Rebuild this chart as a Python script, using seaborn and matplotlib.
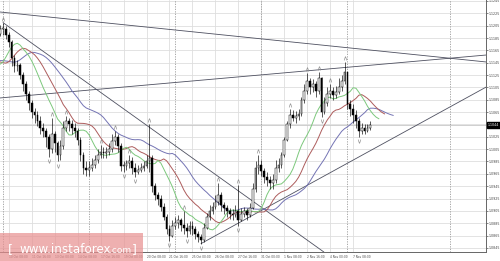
import numpy as np
import pandas as pd
import matplotlib
matplotlib.use("Agg")
import matplotlib.pyplot as plt
import seaborn as sns
from matplotlib.patches import Rectangle

# ---------------- data (EUR/USD, H4) ----------------
# bar index: -12..-1 pre-history (off screen), 0 = 10 Oct 00:00 ... 128 = 8 Nov 08:00
first_open = 1.1150
close = [1.1145, 1.1140, 1.1148, 1.1152, 1.1145, 1.1140, 1.1138, 1.1135, 1.1142, 1.1175, 1.1192, 1.1200,
         1.1200, 1.1190, 1.1178, 1.1152, 1.1140, 1.1142,
         1.1125, 1.1110, 1.1095, 1.1080, 1.1065, 1.1060,
         1.1050, 1.1040, 1.1035, 1.1025, 1.1005, 1.1030,
         1.1015, 1.0995, 1.1010, 1.1040, 1.1050, 1.1045,
         1.1040, 1.1035, 1.1020, 1.0995, 1.0975, 1.0972,
         1.0975, 1.0980, 1.0988, 1.0995, 1.1000, 1.0998,
         1.1000, 1.1005, 1.1018, 1.1025, 1.1010, 1.0978,
         1.0978, 1.0982, 1.0986, 1.0975, 1.0968, 1.0972,
         1.0975, 1.0978, 1.0985, 1.0990, 1.0945, 1.0930,
         1.0925, 1.0912, 1.0895, 1.0875, 1.0865, 1.0880,
         1.0885, 1.0890, 1.0882, 1.0878, 1.0872, 1.0880,
         1.0876, 1.0868, 1.0862, 1.0858, 1.0878, 1.0895,
         1.0905, 1.0912, 1.0920, 1.0930, 1.0915, 1.0910,
         1.0905, 1.0900, 1.0898, 1.0905, 1.0890, 1.0900,
         1.0905, 1.0898, 1.0910, 1.0940, 1.0975, 1.0980,
         1.0970, 1.0960, 1.0955, 1.0950, 1.0955, 1.0975,
         1.0980, 1.0995, 1.1020, 1.1045, 1.1060, 1.1055,
         1.1058, 1.1062, 1.1085, 1.1100, 1.1115, 1.1105,
         1.1110, 1.1100, 1.1120, 1.1065, 1.1080, 1.1095,
         1.1100, 1.1092, 1.1098, 1.1105, 1.1115, 1.1130,
         1.1078, 1.1070, 1.1060, 1.1050, 1.1035, 1.1040,
         1.1035, 1.1040, 1.1044]
high = [1.1158, 1.1152, 1.1155, 1.1160, 1.1158, 1.1150, 1.1148, 1.1145, 1.1150, 1.1185, 1.1200, 1.1206,
        1.1210, 1.1205, 1.1195, 1.1182, 1.1158, 1.1150,
        1.1145, 1.1130, 1.1115, 1.1100, 1.1085, 1.1072,
        1.1066, 1.1058, 1.1048, 1.1040, 1.1030, 1.1055,
        1.1035, 1.1018, 1.1020, 1.1050, 1.1058, 1.1055,
        1.1052, 1.1048, 1.1040, 1.1025, 1.1000, 1.0985,
        1.0985, 1.0990, 1.0995, 1.1005, 1.1012, 1.1008,
        1.1008, 1.1015, 1.1030, 1.1035, 1.1030, 1.1015,
        1.0985, 1.0988, 1.0995, 1.0992, 1.0982, 1.0980,
        1.0982, 1.0985, 1.0995, 1.1045, 1.0995, 1.0950,
        1.0935, 1.0930, 1.0918, 1.0900, 1.0882, 1.0890,
        1.0895, 1.0898, 1.0893, 1.0905, 1.0885, 1.0888,
        1.0888, 1.0880, 1.0872, 1.0868, 1.0885, 1.0902,
        1.0915, 1.0920, 1.0930, 1.0950, 1.0935, 1.0920,
        1.0915, 1.0910, 1.0908, 1.0915, 1.0947, 1.0910,
        1.0912, 1.0910, 1.0918, 1.0950, 1.0985, 1.0995,
        1.0988, 1.0975, 1.0968, 1.0962, 1.0965, 1.0988,
        1.0990, 1.1000, 1.1025, 1.1050, 1.1070, 1.1068,
        1.1066, 1.1070, 1.1090, 1.1110, 1.1128, 1.1120,
        1.1118, 1.1115, 1.1130, 1.1122, 1.1090, 1.1105,
        1.1110, 1.1105, 1.1108, 1.1120, 1.1125, 1.1146,
        1.1130, 1.1085, 1.1078, 1.1068, 1.1055, 1.1048,
        1.1045, 1.1046, 1.1050]
low = [1.1140, 1.1132, 1.1136, 1.1142, 1.1138, 1.1132, 1.1130, 1.1128, 1.1130, 1.1138, 1.1170, 1.1188,
       1.1190, 1.1183, 1.1170, 1.1140, 1.1130, 1.1132,
       1.1118, 1.1100, 1.1085, 1.1068, 1.1055, 1.1048,
       1.1042, 1.1030, 1.1025, 1.1008, 1.0992, 1.0998,
       1.1000, 1.0985, 1.0988, 1.1005, 1.1035, 1.1035,
       1.1030, 1.1025, 1.1012, 1.0985, 1.0965, 1.0962,
       1.0962, 1.0970, 1.0975, 1.0982, 1.0990, 1.0990,
       1.0990, 1.0995, 1.1000, 1.1012, 1.1000, 1.0970,
       1.0968, 1.0972, 1.0975, 1.0965, 1.0960, 1.0964,
       1.0968, 1.0970, 1.0975, 1.0968, 1.0935, 1.0922,
       1.0915, 1.0905, 1.0890, 1.0868, 1.0856, 1.0862,
       1.0875, 1.0878, 1.0872, 1.0868, 1.0862, 1.0868,
       1.0866, 1.0860, 1.0855, 1.0852, 1.0855, 1.0875,
       1.0890, 1.0900, 1.0908, 1.0915, 1.0905, 1.0900,
       1.0895, 1.0892, 1.0890, 1.0895, 1.0880, 1.0888,
       1.0895, 1.0890, 1.0895, 1.0908, 1.0935, 1.0965,
       1.0962, 1.0950, 1.0945, 1.0940, 1.0940, 1.0950,
       1.0968, 1.0975, 1.0992, 1.1018, 1.1040, 1.1050,
       1.1048, 1.1052, 1.1058, 1.1080, 1.1095, 1.1095,
       1.1098, 1.1090, 1.1095, 1.1057, 1.1062, 1.1075,
       1.1088, 1.1085, 1.1088, 1.1095, 1.1100, 1.1110,
       1.1070, 1.1058, 1.1048, 1.1040, 1.1025, 1.1030,
       1.1030, 1.1032, 1.1036]
first_bar = -12

price_ticks = [1.1245, 1.1225, 1.1205, 1.1185, 1.1165, 1.1145, 1.1125, 1.1105, 1.1085, 1.1065,
               1.1045, 1.1025, 1.1005, 1.0985, 1.0965, 1.0945, 1.0925, 1.0905, 1.0885, 1.0865, 1.0845]
time_tick_bars = [2, 10, 18, 26, 34, 42, 50, 58, 66, 74, 82, 90, 98, 106, 114, 122]
time_tick_labels = ["10 Oct 08:00", "11 Oct 16:00", "13 Oct 00:00", "14 Oct 08:00", "17 Oct 16:00",
                    "19 Oct 00:00", "20 Oct 08:00", "21 Oct 16:00", "25 Oct 00:00", "26 Oct 08:00",
                    "27 Oct 16:00", "31 Oct 00:00", "1 Nov 08:00", "2 Nov 16:00", "4 Nov 00:00", "7 Nov 08:00"]
week_separators = [0, 30, 60, 90, 120, 155.7]
current_price = 1.1044

# trend lines: (bar, price) endpoints
trend_a = ([-1.1, 168.4], [1.12272, 1.11462])
trend_b = ([-1.1, 168.4], [1.10879, 1.11575])
trend_c = ([0, 111.8], [1.1210, 1.08384])
trend_d = ([69, 168.4], [1.0852, 1.11057])

# alligator settings (period, shift, colour)
alligator = [(13, 8, "#7474b4"), (8, 5, "#ad5c5c"), (5, 3, "#7cc87c")]

# ---------------- figure ----------------
sns.set_style("white")
plt.rcParams["font.family"] = ["DejaVu Sans"]
fig = plt.figure(figsize=(5.0, 2.61), dpi=100)
ax = fig.add_axes([0.0, 9 / 261, 486 / 500, 252 / 261])

c = np.array(close); h = np.array(high); l = np.array(low)
o = np.r_[first_open, c[:-1]]
x = np.arange(first_bar, first_bar + len(c))

# grid
for p in price_ticks:
    ax.axhline(p, color="#dedede", lw=0.6, zorder=0)
for b in time_tick_bars:
    ax.axvline(b, color="#dedede", lw=0.6, zorder=0)
for b in week_separators:
    ax.axvline(b, color="#9a9a9a", lw=0.6, ls=(0, (1.5, 1.5)), zorder=0.5)
ax.axhline(current_price, color="#c8c8c8", lw=0.6, zorder=0.6)

# trend lines
for xs, ys in (trend_a, trend_b, trend_c, trend_d):
    ax.plot(xs, ys, color="#4e5060", lw=0.6, zorder=1)

# alligator (SMMA on median price, shifted forward)
median = pd.Series((h + l) / 2)
for n, sh, col in alligator:
    sm = median.ewm(alpha=1 / n, adjust=False).mean()
    sns.lineplot(x=x + sh, y=sm.values, color=col, lw=0.7, ax=ax, zorder=2)

# candles
ax.vlines(x, l, h, color="black", lw=0.45, zorder=3)
up = c >= o
body = np.where(np.abs(c - o) < 0.00006, 0.00006, np.abs(c - o))
bottom = np.minimum(c, o)
ax.bar(x[up], body[up], bottom=bottom[up], width=0.6, color="white",
       edgecolor="black", lw=0.35, zorder=4)
ax.bar(x[~up], body[~up], bottom=bottom[~up], width=0.6, color="black",
       edgecolor="black", lw=0.35, zorder=4)

# fractals
fu, fd = [], []
for i in range(2, len(c) - 2):
    if x[i] < 0:
        continue
    if h[i] > max(h[i - 2], h[i - 1], h[i + 1], h[i + 2]):
        fu.append(i)
    if l[i] < min(l[i - 2], l[i - 1], l[i + 1], l[i + 2]):
        fd.append(i)
fu = np.array(fu); fd = np.array(fd)
ax.scatter(x[fu], h[fu] + 0.00065, marker=r"$\wedge$", s=8, color="#8a8a8a", lw=0, zorder=5)
ax.scatter(x[fd], l[fd] - 0.00065, marker=r"$\vee$", s=8, color="#8a8a8a", lw=0, zorder=5)

# axes
ax.set_xlim(-1.05, 168.3)
ax.set_ylim(1.08384, 1.12466)
ax.yaxis.tick_right()
ax.set_yticks(price_ticks)
ax.set_yticklabels([f"{p:.4f}" for p in price_ticks], fontsize=2.3)
ax.set_xticks(time_tick_bars)
ax.set_xticklabels(time_tick_labels, fontsize=2.1, ha="left")
ax.tick_params(axis="y", length=1.2, width=0.5, pad=1.0, colors="#555555", labelcolor="#444444")
ax.tick_params(axis="x", length=1.2, width=0.5, pad=1.0, colors="#555555", labelcolor="#444444")
for s in ("top", "left"):
    ax.spines[s].set_visible(False)
for s in ("right", "bottom"):
    ax.spines[s].set_color("#666666")
    ax.spines[s].set_linewidth(0.7)
ax.set_xlabel(""); ax.set_ylabel("")

# current price label
ax.annotate(f"{current_price:.4f}", xy=(1.0, current_price), xycoords=("axes fraction", "data"),
            xytext=(1.2, 0), textcoords="offset points", va="center", ha="left",
            fontsize=2.3, color="white",
            bbox=dict(boxstyle="square,pad=0.3", fc="black", ec="black"), zorder=10,
            annotation_clip=False)

# watermark
fig.patches.append(Rectangle((0, 0), 143 / 500, 28 / 261, transform=fig.transFigure,
                             facecolor="#e88f8f", alpha=0.7, edgecolor="none", zorder=20))
fig.text(8 / 500, 8 / 261, "[", fontsize=9, color="white", zorder=21, va="baseline")
fig.text(19 / 500, 8 / 261, "www.instaforex", fontsize=8.6, color="white", zorder=21, va="baseline")
fig.text(109 / 500, 8 / 261, ".com", fontsize=6.5, color="white", zorder=21, va="baseline")
fig.text(132 / 500, 8 / 261, "]", fontsize=9, color="white", zorder=21, va="baseline")

fig.savefig("out.png", dpi=100)
